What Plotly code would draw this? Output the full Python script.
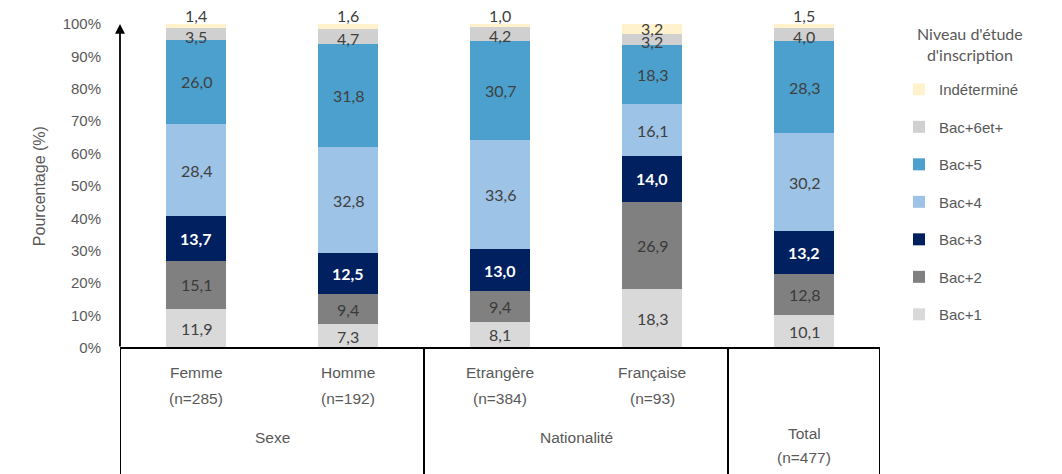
import plotly.graph_objects as go

# ---------------- data ----------------
categories = ["Femme", "Homme", "Etrangère", "Française", "Total"]
n_values = [285, 192, 384, 93, 477]
groups = ["Sexe", "Sexe", "Nationalité", "Nationalité", "Total"]

levels = ["Bac+1", "Bac+2", "Bac+3", "Bac+4", "Bac+5", "Bac+6et+", "Indéterminé"]
bac1 = [11.9, 7.3, 8.1, 18.3, 10.1]
bac2 = [15.1, 9.4, 9.4, 26.9, 12.8]
bac3 = [13.7, 12.5, 13.0, 14.0, 13.2]
bac4 = [28.4, 32.8, 33.6, 16.1, 30.2]
bac5 = [26.0, 31.8, 30.7, 18.3, 28.3]
bac6 = [3.5, 4.7, 4.2, 3.2, 4.0]
indet = [1.4, 1.6, 1.0, 3.2, 1.5]

y_tick_values = [0, 10, 20, 30, 40, 50, 60, 70, 80, 90, 100]
y_tick_labels = ["0%", "10%", "20%", "30%", "40%", "50%", "60%", "70%", "80%", "90%", "100%"]

legend_title = "Niveau d'étude<br>d'inscription"

# ---------------- style ----------------
series = [bac1, bac2, bac3, bac4, bac5, bac6, indet]
colors = ["#D9D9D9", "#808080", "#002060", "#9DC3E6", "#4BA0CE", "#D0D0D0", "#FFF2CC"]
label_colors = ["#404040", "#3A3A3A", "#FFFFFF", "#404040", "#404040", "#404040", "#404040"]
label_bold = [False, False, True, False, False, False, False]
label_shift = [0, 0, 0, 0, 0, -2, 1]

TXT = "#595959"
AX_FONT = "Liberation Sans, Arial, sans-serif"
LBL_FONT = "Lato, Calibri, sans-serif"

Y_LO, Y_HI = -38.88, 100.6

fig = go.Figure()
for i, (name, vals, col) in enumerate(zip(levels, series, colors)):
    fig.add_trace(go.Bar(
        x=categories, y=vals, name=name, legendgroup=name,
        legendrank=1000 - i,
        marker=dict(color=col, line=dict(width=0)),
        width=0.395, hoverinfo="skip",
    ))

annotations = []
# data labels
cum = [0.0] * len(categories)
for si, vals in enumerate(series):
    for ci, v in enumerate(vals):
        bottom = cum[ci]
        top = bottom + v
        txt = f"{v:.1f}".replace(".", ",")
        if label_bold[si]:
            txt = "<b>" + txt + "</b>"
        if si == len(series) - 1 and v < 2.5:
            annotations.append(dict(x=categories[ci], y=min(top, Y_HI), text=txt,
                                    showarrow=False, yanchor="bottom", yshift=-3,
                                    font=dict(family=LBL_FONT, size=16, color=label_colors[si])))
        else:
            annotations.append(dict(x=categories[ci], y=(bottom + top) / 2, text=txt,
                                    showarrow=False, yanchor="middle", yshift=label_shift[si],
                                    font=dict(family=LBL_FONT, size=16, color=label_colors[si])))
        cum[ci] = top

# category labels and group labels
for ci, (cat, n, g) in enumerate(zip(categories, n_values, groups)):
    if cat != g:
        annotations.append(dict(x=cat, y=-7.6, text=cat, showarrow=False,
                                font=dict(family=AX_FONT, size=15.5, color=TXT)))
        annotations.append(dict(x=cat, y=-15.7, text=f"(n={n})", showarrow=False,
                                font=dict(family=AX_FONT, size=15.5, color=TXT)))
    else:
        annotations.append(dict(x=cat, y=-26.3, text=cat, showarrow=False,
                                font=dict(family=AX_FONT, size=15.5, color=TXT)))
        annotations.append(dict(x=cat, y=-33.7, text=f"(n={n})", showarrow=False,
                                font=dict(family=AX_FONT, size=15.5, color=TXT)))

group_names = []
for g in groups:
    if g not in group_names:
        group_names.append(g)
shapes = []
edges = [-0.5]
for g in group_names:
    idx = [i for i, gg in enumerate(groups) if gg == g]
    center = (idx[0] + idx[-1]) / 2
    edges.append(idx[-1] + 0.5)
    if g not in categories:
        annotations.append(dict(x=center, y=-27.5, text=g, showarrow=False,
                                font=dict(family=AX_FONT, size=15.5, color=TXT)))

# table lines
shapes.append(dict(type="line", xref="x", yref="y", x0=-0.5, x1=len(categories) - 0.5,
                   y0=0, y1=0, line=dict(color="black", width=2)))
for e in edges:
    shapes.append(dict(type="line", xref="x", yref="y", x0=e, x1=e, y0=0, y1=Y_LO,
                       line=dict(color="black", width=2)))

# y axis arrow
annotations.append(dict(x=-0.5, y=100, ax=-0.5, ay=0, xref="x", yref="y",
                        axref="x", ayref="y", text="", showarrow=True,
                        arrowhead=2, arrowsize=1.1, arrowwidth=1.8, arrowcolor="black",
                        standoff=0, startstandoff=0))

# y axis title
annotations.append(dict(x=-0.105, xref="paper", y=50, yref="y", text="Pourcentage (%)",
                        textangle=-90, showarrow=False, xanchor="center", yanchor="middle",
                        font=dict(family=AX_FONT, size=16, color=TXT)))

# legend title (centered, like the reference)
annotations.append(dict(x=1.118, xref="paper", y=0.952, yref="paper", text=legend_title,
                        showarrow=False, xanchor="center", yanchor="middle", align="center",
                        font=dict(family=LBL_FONT, size=16, color=TXT)))

fig.update_layout(
    width=1062, height=474,
    margin=dict(l=120, r=182, t=22, b=0, pad=0),
    barmode="stack",
    plot_bgcolor="white", paper_bgcolor="white",
    showlegend=True,
    legend=dict(
        x=1.025, xanchor="left", y=0.887, yanchor="top",
        traceorder="grouped", tracegroupgap=15,
        font=dict(family=AX_FONT, size=15, color=TXT),
        bgcolor="rgba(0,0,0,0)",
    ),
    xaxis=dict(type="category", range=[-0.5, len(categories) - 0.5],
               showticklabels=False, showgrid=False, zeroline=False, showline=False, ticks=""),
    yaxis=dict(range=[Y_LO, Y_HI], tickvals=y_tick_values, ticktext=y_tick_labels,
               showgrid=False, zeroline=False, showline=False, ticks="",
               ticklabelstandoff=18,
               tickfont=dict(family=AX_FONT, size=15, color=TXT)),
    annotations=annotations,
    shapes=shapes,
)
try:
    fig.update_layout(legend_maxheight=1)
except Exception:
    pass

fig.write_html("out.html", config={"displayModeBar": False},
               post_script="document.body.style.margin='0';")
